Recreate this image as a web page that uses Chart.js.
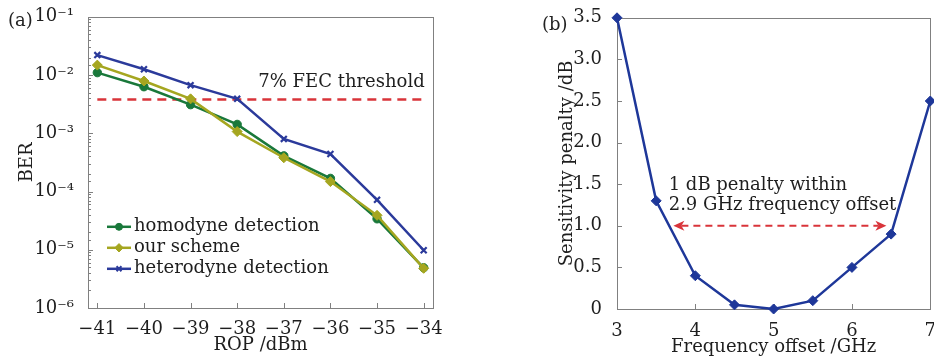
<!DOCTYPE html>
<html>
<head>
<meta charset="utf-8">
<script src="https://cdn.jsdelivr.net/npm/chart.js@4/dist/chart.umd.min.js"></script>
<style>
html, body { margin:0; padding:0; background:#fff; overflow:hidden; width:934px; height:361px; }
#wrapA { position:absolute; left:0; top:0; width:470px; height:361px; }
#wrapB { position:absolute; left:520px; top:0; width:420px; height:361px; }
.tag { position:absolute; font-family:"DejaVu Serif", serif; font-size:18px; color:#222; }
</style>
</head>
<body>
<div id="wrapA"><canvas id="berChart" width="470" height="361"></canvas></div>
<div id="wrapB"><canvas id="penaltyChart" width="420" height="361"></canvas></div>
<div class="tag" style="left:8px;top:9px">(a)</div>
<div class="tag" style="left:542px;top:13px">(b)</div>
<script>
// ---------- DATA
var ropValues      = [-41, -40, -39, -38, -37, -36, -35, -34];
var berHomodyne    = [1.1e-2, 6.3e-3, 3.1e-3, 1.42e-3, 4.1e-4, 1.68e-4, 3.4e-5, 4.9e-6];
var berOurScheme   = [1.48e-2, 7.9e-3, 3.9e-3, 1.07e-3, 3.8e-4, 1.48e-4, 3.9e-5, 4.8e-6];
var berHeterodyne  = [2.2e-2, 1.26e-2, 6.7e-3, 3.9e-3, 8.0e-4, 4.4e-4, 7.2e-5, 9.8e-6];
var fecThreshold   = 3.8e-3;
var berSeriesNames = ['homodyne detection', 'our scheme', 'heterodyne detection'];

var freqOffset     = [3, 3.5, 4, 4.5, 5, 5.5, 6, 6.5, 7];
var penaltyValues  = [3.5, 1.3, 0.4, 0.05, 0, 0.1, 0.5, 0.9, 2.5];
var arrowFrom = 3.72, arrowTo = 6.44, arrowLevel = 1.0;
var noteLines = ['1 dB penalty within', '2.9 GHz frequency offset'];

var FONT = '"DejaVu Serif", serif';
var TEXT = '#1e1e1e';
var SUP = {'-': '\u207B', '0': '\u2070', '1': '\u00B9', '2': '\u00B2', '3': '\u00B3', '4': '\u2074', '5': '\u2075', '6': '\u2076', '7': '\u2077', '8': '\u2078', '9': '\u2079'};

function toXY(xs, ys){
    return xs.map(function(x, i){ return {x: x, y: ys[i]}; });
}
function isPow10(v){
    var l = Math.log10(v);
    return Math.abs(l - Math.round(l)) < 1e-9;
}
function minusSign(v){
    return v < 0 ? '\u2212' + Math.abs(v) : String(v);
}

// frame round the plot + small ticks pointing inwards
var frameAndTicks = {
    id: 'frameAndTicks',
    beforeDatasetsDraw: function(chart){
        var ctx = chart.ctx, a = chart.chartArea;
        var xs = chart.scales.x, ys = chart.scales.y;
        ctx.save();
        ctx.strokeStyle = '#808080';
        ctx.lineWidth = 1;
        ctx.strokeRect(Math.round(a.left) + 0.5, Math.round(a.top) + 0.5,
                       Math.round(a.right - a.left), Math.round(a.bottom - a.top));
        ctx.beginPath();
        xs.ticks.forEach(function(t){
            var px = Math.round(xs.getPixelForValue(t.value)) + 0.5;
            ctx.moveTo(px, a.bottom); ctx.lineTo(px, a.bottom - 5);
        });
        ys.ticks.forEach(function(t){
            var py = Math.round(ys.getPixelForValue(t.value)) + 0.5;
            var len = (ys.type === 'logarithmic' && !isPow10(t.value)) ? 3 : 5;
            ctx.moveTo(a.left, py); ctx.lineTo(a.left + len, py);
        });
        ctx.stroke();
        ctx.restore();
    }
};

// ---------- CHART (a)
var berColors  = ['#19783a', '#a5a620', '#2b3a9b'];
var berMarkers = ['circle', 'rectRot', 'crossRot'];
var berSeries  = [berHomodyne, berOurScheme, berHeterodyne];

var berDatasets = berSeries.map(function(s, i){
    return {
        label: berSeriesNames[i],
        data: toXY(ropValues, s),
        borderColor: berColors[i],
        backgroundColor: berColors[i],
        borderWidth: 2.5,
        pointStyle: berMarkers[i],
        pointRadius: i == 1 ? 5 : 4.2,
        pointBorderWidth: i == 2 ? 2.2 : 1,
        clip: false,
        order: 3 - i
    };
});
berDatasets.push({
    label: 'threshold',
    isThreshold: true,
    data: [{x: ropValues[0], y: fecThreshold}, {x: ropValues[ropValues.length - 1], y: fecThreshold}],
    borderColor: '#d9343a',
    borderWidth: 2.5,
    borderDash: [9, 6],
    pointRadius: 0,
    order: 5
});

var berExtras = {
    id: 'berExtras',
    afterDatasetsDraw: function(chart){
        var ctx = chart.ctx, a = chart.chartArea;
        var xs = chart.scales.x, ys = chart.scales.y;
        ctx.save();
        ctx.font = '18px ' + FONT;
        ctx.fillStyle = TEXT;
        ctx.textBaseline = 'middle';
        // FEC label
        ctx.textAlign = 'right';
        ctx.fillText('7% FEC threshold', xs.getPixelForValue(ropValues[ropValues.length - 1]) + 1, ys.getPixelForValue(7.6e-3));
        // legend
        ctx.textAlign = 'left';
        var x0 = a.left + 19;
        chart.data.datasets.forEach(function(ds, i){
            if (ds.isThreshold) return;
            var y = a.top + 210 + i * 21;
            ctx.strokeStyle = ds.borderColor;
            ctx.fillStyle = ds.borderColor;
            ctx.lineWidth = 2.5;
            ctx.beginPath(); ctx.moveTo(x0, y); ctx.lineTo(x0 + 24, y); ctx.stroke();
            ctx.lineWidth = i == 2 ? 2 : 1;
            Chart.helpers.drawPoint(ctx, {pointStyle: ds.pointStyle, rotation: 0, radius: i == 1 ? 4.2 : 3.5, borderWidth: ctx.lineWidth}, x0 + 12, y);
            ctx.fillStyle = TEXT;
            ctx.fillText(ds.label, x0 + 27, y);
        });
        ctx.restore();
    }
};

new Chart(document.getElementById('berChart').getContext('2d'), {
    type: 'line',
    data: { datasets: berDatasets },
    options: {
        responsive: false,
        animation: false,
        layout: { padding: { left: 0, top: 13, right: 37, bottom: 0 } },
        plugins: { legend: { display: false }, tooltip: { enabled: false } },
        scales: {
            x: {
                type: 'linear',
                min: -41.2, max: -33.8,
                grid: { display: false },
                border: { display: false },
                ticks: {
                    stepSize: 1, includeBounds: false, padding: 3,
                    color: TEXT, font: { family: FONT, size: 18 },
                    callback: function(v){ return minusSign(v); }
                },
                title: { display: true, text: 'ROP /dBm', color: TEXT,
                         font: { family: FONT, size: 18, lineHeight: 1.2 }, padding: { top: 0, bottom: 5 } },
                afterFit: function(s){ s.height = 53; }
            },
            y: {
                type: 'logarithmic',
                min: 1e-6, max: 1e-1,
                grid: { display: false },
                border: { display: false },
                ticks: {
                    autoSkip: false, padding: 6,
                    color: TEXT, font: { family: FONT, size: 18 },
                    callback: function(v){
                        if (!isPow10(v)) return '';
                        var e = String(Math.round(Math.log10(v)));
                        return '10' + e.split('').map(function(c){ return SUP[c]; }).join('');
                    }
                },
                title: { display: true, text: 'BER', color: TEXT,
                         font: { family: FONT, size: 18, lineHeight: 1.2 }, padding: { top: 17, bottom: 0 } },
                afterFit: function(s){ s.width = 88; }
            }
        }
    },
    plugins: [frameAndTicks, berExtras]
});

// ---------- CHART (b)
var penaltyExtras = {
    id: 'penaltyExtras',
    afterDatasetsDraw: function(chart){
        var ctx = chart.ctx;
        var xs = chart.scales.x, ys = chart.scales.y;
        var x1 = xs.getPixelForValue(arrowFrom), x2 = xs.getPixelForValue(arrowTo);
        var y = ys.getPixelForValue(arrowLevel);
        ctx.save();
        ctx.strokeStyle = '#d9343a';
        ctx.fillStyle = '#d9343a';
        ctx.lineWidth = 2;
        ctx.setLineDash([7, 5]);
        ctx.beginPath(); ctx.moveTo(x1 + 8, y); ctx.lineTo(x2 - 8, y); ctx.stroke();
        ctx.setLineDash([]);
        ctx.beginPath();
        ctx.moveTo(x1, y); ctx.lineTo(x1 + 11, y - 5); ctx.lineTo(x1 + 8, y); ctx.lineTo(x1 + 11, y + 5); ctx.closePath();
        ctx.moveTo(x2, y); ctx.lineTo(x2 - 11, y - 5); ctx.lineTo(x2 - 8, y); ctx.lineTo(x2 - 11, y + 5); ctx.closePath();
        ctx.fill();
        ctx.font = '18px ' + FONT;
        ctx.fillStyle = TEXT;
        ctx.textAlign = 'left';
        ctx.textBaseline = 'middle';
        var tx = xs.getPixelForValue(3.66);
        ctx.fillText(noteLines[0], tx, ys.getPixelForValue(1.49));
        ctx.fillText(noteLines[1], tx, ys.getPixelForValue(1.25));
        ctx.restore();
    }
};

new Chart(document.getElementById('penaltyChart').getContext('2d'), {
    type: 'line',
    data: {
        datasets: [{
            label: 'penalty',
            data: toXY(freqOffset, penaltyValues),
            borderColor: '#1e3799',
            backgroundColor: '#1e3799',
            borderWidth: 2.5,
            pointStyle: 'rectRot',
            pointRadius: 5,
            pointBorderWidth: 1,
            clip: false
        }]
    },
    options: {
        responsive: false,
        animation: false,
        layout: { padding: { left: 0, top: 17, right: 9, bottom: 0 } },
        plugins: { legend: { display: false }, tooltip: { enabled: false } },
        scales: {
            x: {
                type: 'linear',
                min: 3, max: 7,
                grid: { display: false },
                border: { display: false },
                ticks: { stepSize: 1, padding: 4, color: TEXT, font: { family: FONT, size: 18 } },
                title: { display: true, text: 'Frequency offset /GHz', color: TEXT,
                         font: { family: FONT, size: 18, lineHeight: 1.2 }, padding: { top: 0, bottom: 3 } },
                afterFit: function(s){ s.height = 52; }
            },
            y: {
                min: 0, max: 3.5,
                grid: { display: false },
                border: { display: false },
                ticks: {
                    stepSize: 0.5, padding: 7, color: TEXT, font: { family: FONT, size: 18 },
                    callback: function(v){ return v === 0 ? '0' : v.toFixed(1); }
                },
                title: { display: true, text: 'Sensitivity penalty /dB', color: TEXT,
                         font: { family: FONT, size: 18, lineHeight: 1.2 }, padding: { top: 37, bottom: 0 } },
                afterFit: function(s){ s.width = 97; }
            }
        }
    },
    plugins: [frameAndTicks, penaltyExtras]
});
</script>
</body>
</html>
